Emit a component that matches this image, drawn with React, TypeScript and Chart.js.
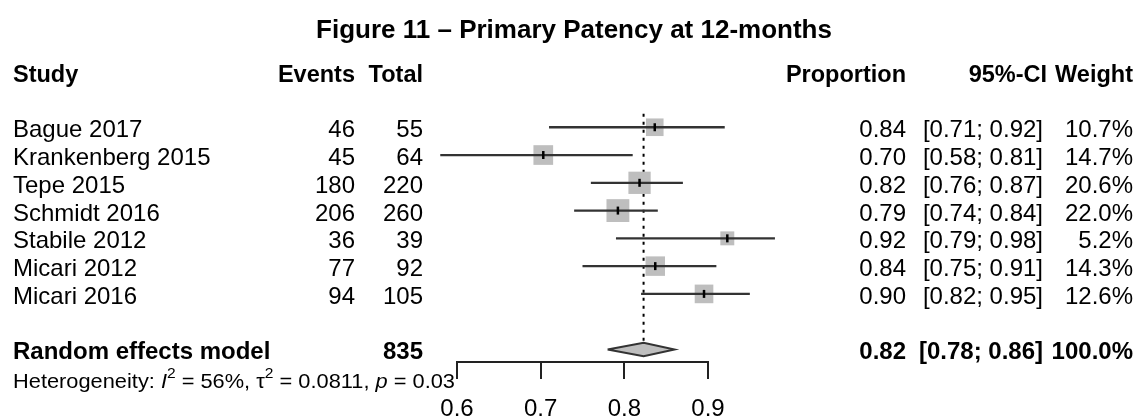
import React, { useEffect, useRef } from 'react';
import { Chart, registerables } from 'chart.js';

Chart.register(...registerables);

// ---------- data ----------
const titleText = 'Figure 11 – Primary Patency at 12-months';
const studies = ['Bague 2017', 'Krankenberg 2015', 'Tepe 2015', 'Schmidt 2016', 'Stabile 2012', 'Micari 2012', 'Micari 2016'];
const events = [46, 45, 180, 206, 36, 77, 94];
const totals = [55, 64, 220, 260, 39, 92, 105];
const proportions = [0.84, 0.70, 0.82, 0.79, 0.92, 0.84, 0.90];
const ciLower = [0.71, 0.58, 0.76, 0.74, 0.79, 0.75, 0.82];
const ciUpper = [0.92, 0.81, 0.87, 0.84, 0.98, 0.91, 0.95];
const weights = [10.7, 14.7, 20.6, 22.0, 5.2, 14.3, 12.6];
const pooledName = 'Random effects model';
const pooledTotal = 835;
const pooledEstimate = 0.823;
const pooledLabel = 0.82;
const pooledLower = 0.78;
const pooledUpper = 0.86;
const pooledWeight = 100.0;
const hetI2 = '56%';
const hetTau2 = '0.0811';
const hetP = '0.03';
const tickValues = [0.6, 0.7, 0.8, 0.9];
const headers = { study: 'Study', events: 'Events', total: 'Total', prop: 'Proportion', ci: '95%-CI', weight: 'Weight' };

// ---------- layout / style ----------
const W = 1141;
const H = 419;
const FONT = '"Liberation Sans", Arial, sans-serif';
const POOLED_ROW = 8;
const HEADER_ROW = -2;
const HET_ROW = 9;
const DIAMOND_HALF = 0.243;
const SQUARE_GRAY = '#bebebe';
const LINE_COLOR = '#333333';

const pointEst = events.map((e, i) => e / totals[i]);
const squareSide = (w: number) => 5.5 + 3.7 * Math.sqrt(w);

const textPlugin = {
  id: 'forestText',
  afterDraw(chart: any) {
    const ctx: CanvasRenderingContext2D = chart.ctx;
    const ys = chart.scales.y;
    const xs = chart.scales.x;
    const yPix = (v: number) => ys.getPixelForValue(v);
    ctx.save();
    // x axis line, from first to last tick
    ctx.strokeStyle = '#222';
    ctx.lineWidth = 2;
    ctx.beginPath();
    const axY = chart.chartArea.bottom;
    ctx.moveTo(xs.getPixelForValue(tickValues[0]) - 1, axY);
    ctx.lineTo(xs.getPixelForValue(tickValues[tickValues.length - 1]) + 1, axY);
    ctx.stroke();

    ctx.fillStyle = '#000';
    ctx.textBaseline = 'alphabetic';
    // title
    ctx.font = `bold 26px ${FONT}`;
    ctx.textAlign = 'center';
    ctx.fillText(titleText, 574, 38);

    const colStudy = 13, colEvents = 355, colTotal = 423, colProp = 906, colCI = 1043, colCIHead = 1047, colWeight = 1133;
    const off = 10;
    // headers
    ctx.font = `bold 23.5px ${FONT}`;
    const hy = yPix(HEADER_ROW) + off;
    ctx.textAlign = 'left';
    ctx.fillText(headers.study, colStudy, hy);
    ctx.textAlign = 'right';
    ctx.fillText(headers.events, colEvents, hy);
    ctx.fillText(headers.total, colTotal, hy);
    ctx.fillText(headers.prop, colProp, hy);
    ctx.fillText(headers.ci, colCIHead, hy);
    ctx.fillText(headers.weight, colWeight, hy);

    // rows
    ctx.font = `24px ${FONT}`;
    studies.forEach((s, i) => {
      const y = yPix(i) + off;
      ctx.textAlign = 'left';
      ctx.fillText(s, colStudy, y);
      ctx.textAlign = 'right';
      ctx.fillText(String(events[i]), colEvents, y);
      ctx.fillText(String(totals[i]), colTotal, y);
      ctx.fillText(proportions[i].toFixed(2), colProp, y);
      ctx.fillText(`[${ciLower[i].toFixed(2)}; ${ciUpper[i].toFixed(2)}]`, colCI, y);
      ctx.fillText(`${weights[i].toFixed(1)}%`, colWeight, y);
    });

    // pooled row
    ctx.font = `bold 24px ${FONT}`;
    const py = yPix(POOLED_ROW) + off;
    ctx.textAlign = 'left';
    ctx.fillText(pooledName, colStudy, py);
    ctx.textAlign = 'right';
    ctx.fillText(String(pooledTotal), colTotal, py);
    ctx.fillText(pooledLabel.toFixed(2), colProp, py);
    ctx.fillText(`[${pooledLower.toFixed(2)}; ${pooledUpper.toFixed(2)}]`, colCI, py);
    ctx.fillText(`${pooledWeight.toFixed(1)}%`, colWeight, py);

    // heterogeneity
    const parts: [string, string][] = [
      ['Heterogeneity: ', 'n'],
      ['I', 'i'],
      ['2', 's'],
      [` = ${hetI2}, `, 'n'],
      ['τ', 'n'],
      ['2', 's'],
      [` = ${hetTau2}, `, 'n'],
      ['p', 'i'],
      [` = ${hetP}`, 'n'],
    ];
    const fs = 21;
    const fontFor = (k: string) => (k === 'i' ? `italic ${fs}px ${FONT}` : k === 's' ? `${Math.round(fs * 0.7)}px ${FONT}` : `${fs}px ${FONT}`);
    let total = 0;
    parts.forEach((p) => { ctx.font = fontFor(p[1]); total += ctx.measureText(p[0]).width; });
    const target = 455 - colStudy;
    const sx = target / total;
    const hyb = yPix(HET_ROW) + 11;
    ctx.translate(colStudy, hyb);
    ctx.scale(sx, 1);
    ctx.textAlign = 'left';
    let cx = 0;
    parts.forEach((p) => {
      ctx.font = fontFor(p[1]);
      ctx.fillText(p[0], cx, p[1] === 's' ? -10 : 0);
      cx += ctx.measureText(p[0]).width;
    });
    ctx.restore();
  },
};

export default function App() {
  const ref = useRef<HTMLCanvasElement>(null);
  useEffect(() => {
    const canvas = ref.current;
    if (!canvas) return;
    Chart.defaults.font.family = FONT;
    const ciSets = studies.map((s, i) => ({
      label: s + ' CI',
      data: [{ x: ciLower[i], y: i }, { x: ciUpper[i], y: i }],
      showLine: true,
      borderColor: LINE_COLOR,
      borderWidth: 2.3,
      pointRadius: 0,
      clip: false as any,
      order: 1,
    }));
    const chart = new Chart(canvas, {
      type: 'scatter',
      data: {
        datasets: [
          {
            label: 'estimate ticks',
            data: pointEst.map((v, i) => ({ x: v, y: i })),
            pointStyle: 'line',
            rotation: 90,
            pointRadius: 4,
            borderWidth: 2.5,
            borderColor: '#000',
            backgroundColor: '#000',
            clip: false as any,
            order: 0,
          } as any,
          ...ciSets,
          {
            label: 'pooled',
            data: [
              { x: pooledLower, y: POOLED_ROW },
              { x: pooledEstimate, y: POOLED_ROW - DIAMOND_HALF },
              { x: pooledUpper, y: POOLED_ROW },
              { x: pooledEstimate, y: POOLED_ROW + DIAMOND_HALF },
              { x: pooledLower, y: POOLED_ROW },
            ],
            showLine: true,
            fill: 'shape',
            backgroundColor: SQUARE_GRAY,
            borderColor: LINE_COLOR,
            borderWidth: 2,
            pointRadius: 0,
            tension: 0,
            clip: false as any,
            order: 1,
          } as any,
          {
            label: 'squares',
            data: pointEst.map((v, i) => ({ x: v, y: i })),
            pointStyle: 'rect',
            pointRadius: weights.map((w) => squareSide(w) / Math.SQRT2),
            backgroundColor: SQUARE_GRAY,
            borderWidth: 0,
            borderColor: SQUARE_GRAY,
            clip: false as any,
            order: 2,
          } as any,
          {
            label: 'reference',
            data: [
              { x: pooledEstimate, y: -0.49 },
              { x: pooledEstimate, y: POOLED_ROW - DIAMOND_HALF },
            ],
            showLine: true,
            borderColor: '#000',
            borderWidth: 2,
            borderDash: [3, 5],
            pointRadius: 0,
            clip: false as any,
            order: 3,
          } as any,
        ],
      },
      options: {
        responsive: false,
        animation: false,
        devicePixelRatio: 1,
        layout: { padding: { left: 373.33, right: W - 791.67, top: 4, bottom: 0 } },
        plugins: { legend: { display: false }, tooltip: { enabled: false }, title: { display: false } },
        events: [],
        scales: {
          x: {
            type: 'linear',
            min: 0.5,
            max: 1.0,
            position: 'bottom',
            afterBuildTicks: (scale: any) => { scale.ticks = tickValues.map((v) => ({ value: v })); },
            afterFit: (scale: any) => { scale.height = 57; },
            ticks: {
              callback: (v: any) => Number(v).toFixed(1),
              font: { size: 24, family: FONT },
              color: '#000',
              padding: 16,
              maxRotation: 0,
              autoSkip: false,
            },
            grid: {
              drawOnChartArea: false,
              drawTicks: true,
              tickLength: 17,
              tickWidth: 2,
              tickColor: '#222',
              color: '#222',
              lineWidth: 2,
            },
            border: { display: false },
          },
          y: {
            type: 'linear',
            min: -4,
            max: 8.452,
            reverse: true,
            display: false,
          },
        },
      } as any,
      plugins: [textPlugin],
    });
    return () => chart.destroy();
  }, []);
  return (
    <div style={{ position: 'absolute', left: 0, top: 0, width: W, height: H, background: '#fff' }}>
      <canvas ref={ref} width={W} height={H} style={{ display: 'block', width: W, height: H }} />
    </div>
  );
}
